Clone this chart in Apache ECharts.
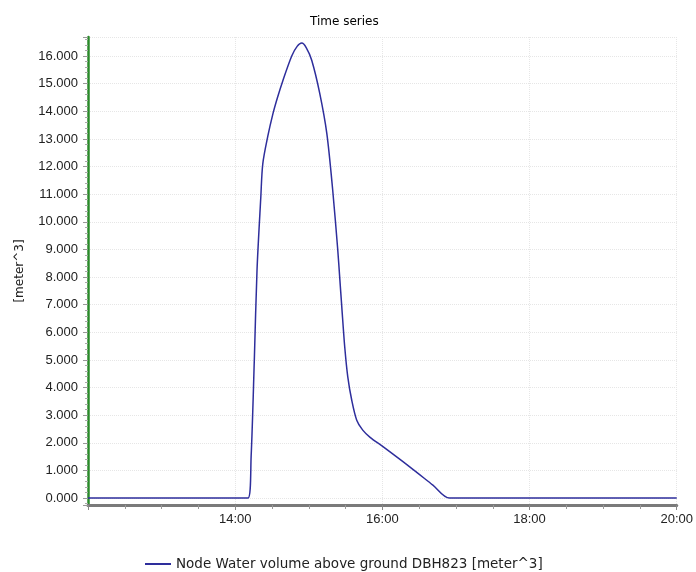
<!DOCTYPE html>
<html>
<head>
<meta charset="utf-8">
<script src="https://cdn.jsdelivr.net/npm/echarts@6/dist/echarts.min.js"></script>
<style>html,body{margin:0;padding:0;background:#fff}#c{width:696px;height:572px}</style>
</head>
<body>
<div id="c"></div>
<script>
var titleText = "Time series";
var yAxisName = "[meter^3]";
var seriesName = "Node Water volume above ground DBH823 [meter^3]";
var xTickLabels = ["14:00", "16:00", "18:00", "20:00"];
var times = ["12:00:00","14:10:30","14:13:00","14:15:36","14:17:48","14:20:54","14:22:30","14:26:36","14:30:42","14:34:30","14:38:48","14:46:06","14:50:30","14:54:18","14:58:00","15:02:24","15:08:54","15:14:42","15:19:30","15:23:36","15:25:12","15:26:54","15:29:18","15:31:48","15:35:00","15:39:06","15:44:00","15:50:00","16:00:30","16:22:18","16:41:12","16:54:48","20:00:00"];
var values = [0,0,1.5,5.0,8.25,10.9,12.1,13.1,13.9,14.5,15.1,16.0,16.35,16.47,16.3,15.85,14.66,13.2,11.15,9.0,8.0,6.93,5.48,4.39,3.55,2.82,2.46,2.2,1.86,1.13,0.47,0,0];

function toMin(s){var p=s.split(':');return (+p[0])*60+(+p[1])+(p[2]?(+p[2])/60:0);}
var data = times.map(function(t,i){return [toMin(t), values[i]];});
var font = "'Liberation Sans', Arial, sans-serif";
var font2 = "'DejaVu Sans', sans-serif";
var chart = echarts.init(document.getElementById('c'));
chart.setOption({
  animation:false,
  backgroundColor:'#fff',
  title:{text:titleText,left:305,top:11,textStyle:{fontSize:12,fontWeight:'normal',color:'#000',fontFamily:font2}},
  legend:{left:140,top:552,itemWidth:26,itemHeight:2,itemGap:8,icon:'rect',
    textStyle:{fontSize:13.5,color:'#222',fontFamily:font2},data:[seriesName]},
  grid:{left:88,right:17,top:37,bottom:67},
  xAxis:{type:'value',min:720,max:1200,interval:120,
    axisLine:{show:true,onZero:false,lineStyle:{color:'#7a7a7a',width:3}},
    axisTick:{show:true,length:5,lineStyle:{color:'#888'}},
    minorTick:{show:true,splitNumber:4,length:4,lineStyle:{color:'#999'}},
    axisLabel:{margin:8,fontSize:13,color:'#222',fontFamily:font,
      formatter:function(v){var h=Math.floor(v/60);var s=(h<10?'0':'')+h+':00';return xTickLabels.indexOf(s)>=0?s:'';}},
    splitLine:{show:true,lineStyle:{color:'#e6e6e6',type:'dotted'}}},
  yAxis:{type:'value',min:-0.25,max:16.69,splitNumber:17,
    name:yAxisName,nameLocation:'middle',nameGap:62,nameRotate:90,
    nameTextStyle:{fontSize:12,color:'#222',fontFamily:font2},
    axisLine:{show:true,lineStyle:{color:'#2a8a2a',width:2.5}},
    axisTick:{show:true,length:5,lineStyle:{color:'#999'}},
    minorTick:{show:true,splitNumber:5,length:3,lineStyle:{color:'#aaa'}},
    axisLabel:{margin:10,fontSize:13,color:'#222',fontFamily:font,showMinLabel:false,showMaxLabel:false,
      formatter:function(v){return v.toFixed(3);}},
    splitLine:{show:true,lineStyle:{color:'#e6e6e6',type:'dotted'}}},
  series:[{name:seriesName,type:'line',data:data,showSymbol:false,smooth:0.3,
    lineStyle:{color:'#2e2e9c',width:1.5},itemStyle:{color:'#2e2e9c'}}]
});
</script>
</body>
</html>
